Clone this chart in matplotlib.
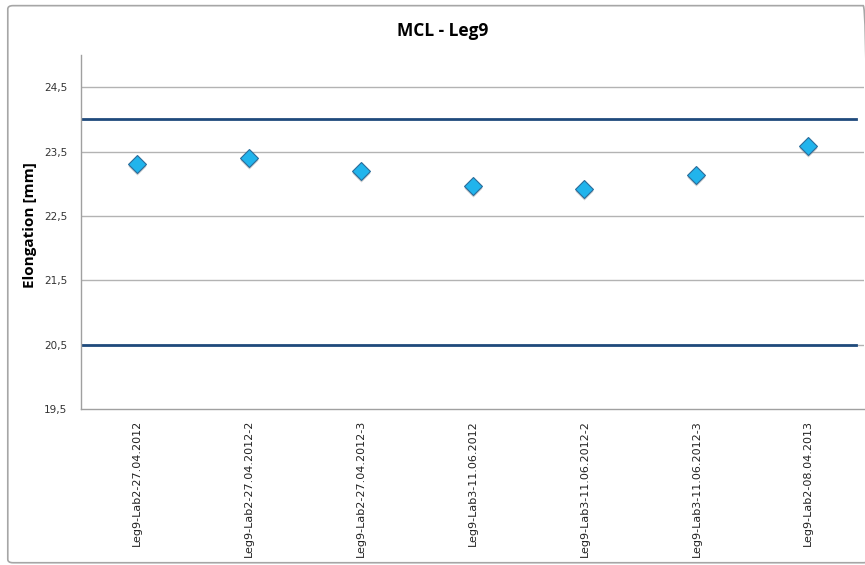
import matplotlib
matplotlib.use("Agg")
import matplotlib.pyplot as plt
from matplotlib.patches import FancyBboxPatch

categories = ["Leg9-Lab2-27.04.2012", "Leg9-Lab2-27.04.2012-2", "Leg9-Lab2-27.04.2012-3",
              "Leg9-Lab3-11.06.2012", "Leg9-Lab3-11.06.2012-2", "Leg9-Lab3-11.06.2012-3",
              "Leg9-Lab2-08.04.2013"]
values = [23.31, 23.40, 23.20, 22.96, 22.92, 23.13, 23.59]
upper_limit = 24.0
lower_limit = 20.5
y_ticks = [19.5, 20.5, 21.5, 22.5, 23.5, 24.5]
y_tick_labels = ["19,5", "20,5", "21,5", "22,5", "23,5", "24,5"]

fig = plt.figure(figsize=(8.65, 5.65), dpi=100)
border = FancyBboxPatch((0.009, 0.004), 0.995, 0.986, boxstyle="round,pad=0,rounding_size=0.006",
                        transform=fig.transFigure, facecolor="none", edgecolor="#A6A6A6",
                        linewidth=1.2, zorder=-1)
fig.patches.append(border)

ax = fig.add_axes([0.0936, 0.2761, 0.9055, 0.6266])
ax.set_facecolor("none")
x = list(range(len(categories)))
ax.set_xlim(-0.5, len(categories) - 0.5)
ax.set_ylim(19.5, 25.0)
ax.set_yticks(y_ticks)
ax.set_yticklabels(y_tick_labels)
ax.set_xticks(x)
ax.set_xticklabels(categories, rotation=90, fontsize=8, color="#222222")
ax.tick_params(axis="y", labelsize=7.5, labelcolor="#333333", length=0, pad=10)
ax.tick_params(axis="x", length=0, pad=8)

for t in y_ticks[1:]:
    ax.axhline(t, color="#B3B3B3", linewidth=1.0, zorder=1)

ax.axhline(upper_limit, xmin=0, xmax=0.99, color="#1F4A7C", linewidth=2.0, zorder=2)
ax.axhline(lower_limit, xmin=0, xmax=0.99, color="#1F4A7C", linewidth=2.0, zorder=2)

# shadow
ax.plot(x, [v - 0.03 for v in values], linestyle="none", marker="D", markersize=9.5,
        markerfacecolor="#9A9A9A", markeredgecolor="none", alpha=0.5, zorder=3)
ax.plot(x, values, linestyle="none", marker="D", markersize=9,
        markerfacecolor="#21B4EC", markeredgecolor="#2A6C9A", markeredgewidth=0.8, zorder=4)

for s in ["top", "right"]:
    ax.spines[s].set_visible(False)
ax.spines["left"].set_color("#A0A0A0")
ax.spines["bottom"].set_color("#A0A0A0")
ax.spines["left"].set_linewidth(1.0)
ax.spines["bottom"].set_linewidth(1.0)

ax.set_ylabel("Elongation [mm]", fontsize=11, fontweight="bold", family="Open Sans")
ax.yaxis.set_label_coords(-0.056, 0.52)
fig.text(0.512, 0.945, "MCL - Leg9", ha="center", va="center", fontsize=12.5,
         fontweight="bold", family="Open Sans")

fig.savefig("out.png", dpi=100)
